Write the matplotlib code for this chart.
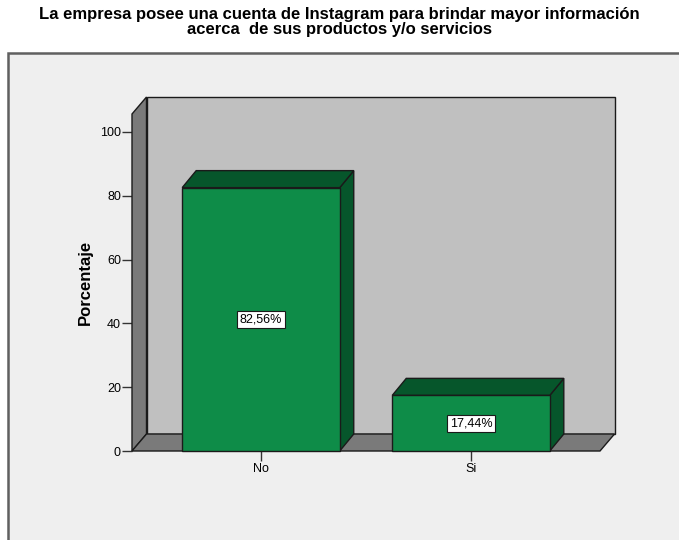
import matplotlib
matplotlib.use("Agg")
import matplotlib.pyplot as plt
from matplotlib.patches import Polygon, Rectangle

plt.rcParams['font.family'] = ['Liberation Sans', 'DejaVu Sans']

title = "La empresa posee una cuenta de Instagram para brindar mayor información\nacerca  de sus productos y/o servicios"
categories = ["No", "Si"]
values = [82.56, 17.44]
labels = ["82,56%", "17,44%"]
yticks = [0, 20, 40, 60, 80, 100]
ylabel = "Porcentaje"

W, H = 679, 540
fig = plt.figure(figsize=(W / 100, H / 100), dpi=100)
fig.patch.set_facecolor("white")

# outer frame (background axes)
bg = fig.add_axes([0, 0, 1, 1], zorder=-5)
bg.set_xlim(0, W)
bg.set_ylim(H, 0)
bg.axis("off")
bg.add_patch(Rectangle((8, 53), 700, 500, facecolor="#efefef",
                       edgecolor="#606060", linewidth=1.8))

fig.text(0.5, 1 - 22 / H, title, ha="center", va="center", fontsize=12,
         fontweight="bold", linespacing=0.95)

# front plane geometry in pixels
left_px, right_px, bottom_px, top_px = 132, 600, 451, 114
ax = fig.add_axes([left_px / W, 1 - bottom_px / H, (right_px - left_px) / W,
                   (bottom_px - top_px) / H])
ax.patch.set_visible(False)
ppu = 3.19
xmin, xmax = -0.614, 1.614
ymax = (bottom_px - top_px) / ppu
ax.set_xlim(xmin, xmax)
ax.set_ylim(0, ymax)
for s in ax.spines.values():
    s.set_visible(False)

dx = 14.5 / 210.0
dy = 17.0 / ppu
ec = "#1a1a1a"
lw = 1.0

def poly(pts, fc, z):
    ax.add_patch(Polygon(pts, closed=True, facecolor=fc, edgecolor=ec,
                         linewidth=lw, zorder=z, clip_on=False, joinstyle="miter"))

# back wall
poly([(xmin + dx, dy), (xmax + dx, dy), (xmax + dx, ymax + dy), (xmin + dx, ymax + dy)], "#c0c0c0", 1)
# left side wall
poly([(xmin, 0), (xmin + dx, dy), (xmin + dx, ymax + dy), (xmin, ymax)], "#7a7a7a", 2)
# floor
poly([(xmin, 0), (xmax, 0), (xmax + dx, dy), (xmin + dx, dy)], "#7a7a7a", 2)

bw = 0.75
bdx = 14.0 / 210.0
for i, (v, lab) in enumerate(zip(values, labels)):
    x0, x1 = i - bw / 2, i + bw / 2
    # side
    poly([(x1, 0), (x1 + bdx, dy), (x1 + bdx, v + dy), (x1, v)], "#06562b", 3)
    # top
    poly([(x0, v), (x1, v), (x1 + bdx, v + dy), (x0 + bdx, v + dy)], "#06562b", 3)
    # front
    poly([(x0, 0), (x1, 0), (x1, v), (x0, v)], "#0e8c48", 4)
    ax.text(i, v / 2, lab, ha="center", va="center", fontsize=9, zorder=6,
            bbox=dict(boxstyle="square,pad=0.2", facecolor="white",
                      edgecolor="#1a1a1a", linewidth=0.8))

ax.set_yticks(yticks)
ax.set_yticklabels([str(t) for t in yticks])
ax.set_xticks(range(len(categories)))
ax.set_xticklabels(categories)
ax.tick_params(axis="y", length=7, width=1, color="#333333", labelsize=9, pad=1)
ax.tick_params(axis="x", length=7, width=1, color="#333333", labelsize=9, pad=2)
ax.set_ylabel(ylabel, fontsize=12, fontweight="bold", labelpad=5)

fig.savefig("out.png", dpi=100)
